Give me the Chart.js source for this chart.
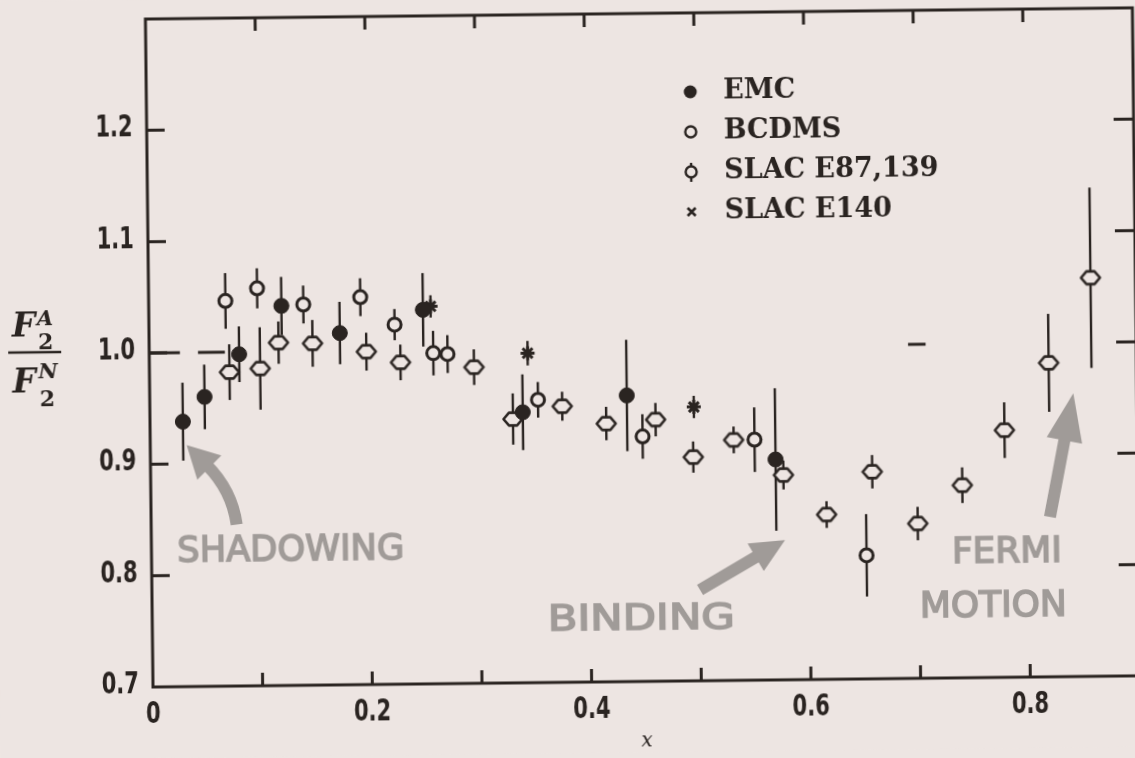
<!DOCTYPE html>
<html>
<head>
<meta charset="utf-8">
<script src="https://cdn.jsdelivr.net/npm/chart.js@4.4.1/dist/chart.umd.min.js"></script>
<style>
  html, body { margin: 0; padding: 0; width: 1135px; height: 758px; overflow: hidden; background: #ede5e2; }
  #wrap { position: absolute; left: 0; top: 0; width: 1160px; height: 758px;
          transform: rotate(-0.65deg); transform-origin: 153px 687px; }
  canvas { display: block; }
</style>
</head>
<body>
<div id="wrap"><canvas id="chart" width="1160" height="758"></canvas></div>
<script>
// Ratio of nuclear to free-nucleon structure functions, F2(A)/F2(N), versus x

// EMC
const emcX   = [0.030, 0.050, 0.082, 0.121, 0.174, 0.250, 0.340, 0.435, 0.570];
const emcY   = [0.938, 0.960, 0.998, 1.041, 1.016, 1.036, 0.943, 0.957, 0.898];
const emcErr = [0.035, 0.029, 0.025, 0.026, 0.028, 0.033, 0.034, 0.050, 0.064];

// BCDMS
const bcdmsX   = [0.070, 0.099, 0.141, 0.193, 0.224, 0.259, 0.272, 0.354, 0.449, 0.551, 0.652];
const bcdmsY   = [1.046, 1.057, 1.042, 1.048, 1.023, 0.997, 0.996, 0.954, 0.920, 0.916, 0.811];
const bcdmsErr = [0.025, 0.018, 0.017, 0.017, 0.014, 0.020, 0.017, 0.016, 0.020, 0.029, 0.037];

// SLAC E87, E139
const slacX   = [0.073, 0.101, 0.118, 0.149, 0.198, 0.229, 0.296, 0.331, 0.376, 0.416, 0.461,
                 0.495, 0.532, 0.577, 0.616, 0.658, 0.699, 0.740, 0.779, 0.820, 0.859];
const slacY   = [0.982, 0.985, 1.008, 1.007, 0.999, 0.989, 0.984, 0.937, 0.948, 0.932, 0.935,
                 0.901, 0.916, 0.884, 0.848, 0.886, 0.839, 0.873, 0.922, 0.982, 1.058];
const slacErr = [0.025, 0.037, 0.019, 0.021, 0.017, 0.016, 0.016, 0.023, 0.013, 0.015, 0.015,
                 0.014, 0.012, 0.013, 0.012, 0.015, 0.015, 0.016, 0.025, 0.044, 0.081];

// SLAC E140
const e140X   = [0.257, 0.345, 0.496];
const e140Y   = [1.039, 0.996, 0.946];
const e140Err = [0.010, 0.011, 0.010];

// Dashed reference level at unity (visible pieces)
const unitySegments = [[0, 0.028], [0.0445, 0.069], [0.692, 0.708]];

// Axes
const xRange = [0, 0.9];
const yRange = [0.7, 1.3];
const xTickValues = [0, 0.2, 0.4, 0.6, 0.8];
const xTickLabels = ['0', '0.2', '0.4', '0.6', '0.8'];
const xTickMarks  = [0.1, 0.2, 0.3, 0.4, 0.5, 0.6, 0.7, 0.8];
const yTickValues = [0.7, 0.8, 0.9, 1.0, 1.1, 1.2];
const yTickLabels = ['0.7', '0.8', '0.9', '1.0', '1.1', '1.2'];
const yTickMarks  = [0.8, 0.9, 1.0, 1.1, 1.2];

const legendLabels = ['EMC', 'BCDMS', 'SLAC E87,139', 'SLAC E140'];

// Hand-lettered notes (position in data units, lettering width in px)
const noteText = ['SHADOWING', 'BINDING', 'FERMI', 'MOTION'];
const noteX    = [0.127, 0.446, 0.780, 0.767];
const noteY    = [0.821, 0.755, 0.812, 0.763];
const noteW    = [227, 187, 110, 147];

// Arrows: tail, bend, tip (data units)
const arrowPaths = [
  [[0.078, 0.845], [0.074, 0.876], [0.0332, 0.917]],
  [[0.4998, 0.7816], [0.5778, 0.8256]],
  [[0.8196, 0.8436], [0.8422, 0.9545]]
];
const arrowHead = [[32, 17], [34, 16], [48, 18]];

const BG = '#ede5e2';
const INK = '#2a2421';
const PENCIL = '#a09b98';

function pts(xs, ys) { return xs.map((x, i) => ({ x: x, y: ys[i] })); }

function unityData() {
  const out = [];
  unitySegments.forEach(s => {
    out.push({ x: s[0], y: 1.0 }, { x: s[1], y: 1.0 }, { x: s[1], y: null });
  });
  return out;
}

function makeSlacMarker() {
  const c = document.createElement('canvas');
  c.width = 24; c.height = 20;
  const g = c.getContext('2d');
  g.beginPath();
  g.moveTo(2.5, 10); g.lineTo(8, 3.6); g.lineTo(16, 3.6);
  g.lineTo(21.5, 10); g.lineTo(16, 16.4); g.lineTo(8, 16.4);
  g.closePath();
  g.fillStyle = BG; g.fill();
  g.lineWidth = 2.6; g.strokeStyle = INK; g.lineJoin = 'round'; g.stroke();
  return c;
}
const slacMarker = makeSlacMarker();

const background = {
  id: 'background',
  beforeDraw(chart) {
    const ctx = chart.ctx;
    ctx.save();
    ctx.fillStyle = BG;
    ctx.fillRect(0, 0, chart.width, chart.height);
    ctx.restore();
  }
};

// Frame, inward ticks, notes, arrows and error bars (under the markers)
const underlay = {
  id: 'underlay',
  beforeDatasetsDraw(chart) {
    const ctx = chart.ctx, a = chart.chartArea;
    const xs = chart.scales.x, ys = chart.scales.y;
    ctx.save();

    // notes
    ctx.fillStyle = PENCIL;
    ctx.textBaseline = 'middle';
    ctx.textAlign = 'center';
    ctx.font = '36px "DejaVu Sans"';
    noteText.forEach((t, i) => {
      const w = ctx.measureText(t).width;
      ctx.save();
      ctx.translate(xs.getPixelForValue(noteX[i]), ys.getPixelForValue(noteY[i]));
      ctx.scale(noteW[i] / w, 1);
      ctx.lineWidth = 1.6; ctx.strokeStyle = PENCIL;
      ctx.strokeText(t, 0, 0);
      ctx.fillText(t, 0, 0);
      ctx.restore();
    });

    // arrows
    arrowPaths.forEach((p, k) => {
      const P = p.map(q => [xs.getPixelForValue(q[0]), ys.getPixelForValue(q[1])]);
      const tip = P[P.length - 1], prev = P[P.length - 2];
      let ux = tip[0] - prev[0], uy = tip[1] - prev[1];
      const n = Math.hypot(ux, uy); ux /= n; uy /= n;
      const L = arrowHead[k][0], W = arrowHead[k][1];
      const bx = tip[0] - L * ux, by = tip[1] - L * uy;
      ctx.strokeStyle = PENCIL; ctx.fillStyle = PENCIL;
      ctx.lineWidth = 12; ctx.lineCap = 'butt';
      ctx.beginPath();
      ctx.moveTo(P[0][0], P[0][1]);
      if (P.length === 3) ctx.quadraticCurveTo(P[1][0], P[1][1], bx + 4 * ux, by + 4 * uy);
      else ctx.lineTo(bx + 4 * ux, by + 4 * uy);
      ctx.stroke();
      ctx.beginPath();
      ctx.moveTo(tip[0], tip[1]);
      ctx.lineTo(bx - W * uy, by + W * ux);
      ctx.lineTo(bx + W * uy, by - W * ux);
      ctx.closePath();
      ctx.fill();
    });

    // frame
    ctx.strokeStyle = INK;
    ctx.lineWidth = 3;
    ctx.lineCap = 'square';
    ctx.strokeRect(a.left, a.top, a.right - a.left, a.bottom - a.top);
    ctx.lineCap = 'butt';
    xTickMarks.forEach(v => {
      const X = xs.getPixelForValue(v);
      ctx.beginPath();
      ctx.moveTo(X, a.bottom); ctx.lineTo(X, a.bottom - 13);
      ctx.moveTo(X, a.top); ctx.lineTo(X, a.top + 13);
      ctx.stroke();
    });
    yTickMarks.forEach(v => {
      const Y = ys.getPixelForValue(v);
      ctx.beginPath();
      ctx.moveTo(a.left, Y); ctx.lineTo(a.left + 18, Y);
      ctx.moveTo(a.right, Y); ctx.lineTo(a.right - 20, Y);
      ctx.stroke();
    });

    // error bars
    ctx.lineWidth = 2.4;
    chart.data.datasets.forEach((ds, i) => {
      if (!ds.errors) return;
      ds.data.forEach((p, j) => {
        const X = xs.getPixelForValue(p.x);
        ctx.beginPath();
        ctx.moveTo(X, ys.getPixelForValue(p.y - ds.errors[j]));
        ctx.lineTo(X, ys.getPixelForValue(p.y + ds.errors[j]));
        ctx.stroke();
      });
    });
    ctx.restore();
  }
};

function condensed(ctx, text, x, y, align, sx) {
  ctx.save();
  ctx.translate(x, y);
  ctx.scale(sx, 1);
  ctx.textAlign = align;
  ctx.fillText(text, 0, 0);
  ctx.restore();
}

// Tick labels, axis titles, legend
const overlay = {
  id: 'overlay',
  afterDraw(chart) {
    const ctx = chart.ctx, a = chart.chartArea;
    const xs = chart.scales.x, ys = chart.scales.y;
    ctx.save();
    ctx.fillStyle = INK;
    ctx.textBaseline = 'middle';
    ctx.font = 'bold 31px "DejaVu Sans"';
    yTickValues.forEach((v, i) => condensed(ctx, yTickLabels[i], a.left - 14, ys.getPixelForValue(v) - 2, 'right', 0.68));
    xTickValues.forEach((v, i) => condensed(ctx, xTickLabels[i], xs.getPixelForValue(v), a.bottom + 28, 'center', 0.68));

    // x axis title
    ctx.font = 'italic 20px "DejaVu Serif"';
    ctx.textAlign = 'center';
    ctx.fillText('x', xs.getPixelForValue(0.45), a.bottom + 60);

    // y axis title F2(A) / F2(N)
    ctx.textBaseline = 'alphabetic';
    ctx.textAlign = 'left';
    ctx.font = 'bold italic 33px "DejaVu Serif"';
    ctx.fillText('F', 16, 335);
    ctx.fillText('F', 16, 391);
    ctx.font = 'bold italic 21px "DejaVu Serif"';
    ctx.fillText('A', 41, 324);
    ctx.fillText('N', 42, 377);
    ctx.font = 'bold 22px "DejaVu Serif"';
    ctx.fillText('2', 42, 348);
    ctx.fillText('2', 43, 405);
    ctx.lineWidth = 2.5; ctx.strokeStyle = INK;
    ctx.beginPath(); ctx.moveTo(12, 351); ctx.lineTo(65, 351); ctx.stroke();

    // legend
    const mx = 697, tx = 730, y0 = 98, dy = 40;
    ctx.font = 'bold 27px "DejaVu Serif"';
    ctx.textBaseline = 'middle';
    legendLabels.forEach((t, i) => ctx.fillText(t, tx, y0 + i * dy));
    // EMC
    ctx.beginPath(); ctx.arc(mx, y0, 6.5, 0, Math.PI * 2); ctx.fill();
    // BCDMS
    ctx.lineWidth = 2.4;
    ctx.beginPath(); ctx.arc(mx, y0 + dy, 5.5, 0, Math.PI * 2); ctx.stroke();
    // SLAC E87,139
    const ys3 = y0 + 2 * dy;
    ctx.beginPath(); ctx.arc(mx, ys3, 5.5, 0, Math.PI * 2); ctx.stroke();
    ctx.beginPath(); ctx.moveTo(mx, ys3 - 9); ctx.lineTo(mx, ys3 - 5.5);
    ctx.moveTo(mx, ys3 + 5.5); ctx.lineTo(mx, ys3 + 10); ctx.stroke();
    // SLAC E140
    const ys4 = y0 + 3 * dy;
    ctx.lineWidth = 2.6;
    ctx.beginPath();
    ctx.moveTo(mx - 4, ys4 - 4); ctx.lineTo(mx + 4, ys4 + 4);
    ctx.moveTo(mx + 4, ys4 - 4); ctx.lineTo(mx - 4, ys4 + 4);
    ctx.stroke();
    ctx.restore();
  }
};

new Chart(document.getElementById('chart'), {
  type: 'scatter',
  data: {
    datasets: [
      { label: 'unity', type: 'line', data: unityData(), showLine: true, spanGaps: false,
        borderColor: INK, borderWidth: 3, pointRadius: 0, order: 5 },
      { label: legendLabels[0], data: pts(emcX, emcY), errors: emcErr,
        pointStyle: 'circle', pointRadius: 7.5, backgroundColor: INK, borderColor: INK, borderWidth: 1, order: 1 },
      { label: legendLabels[1], data: pts(bcdmsX, bcdmsY), errors: bcdmsErr,
        pointStyle: 'circle', pointRadius: 6.5, backgroundColor: BG, borderColor: INK, borderWidth: 3, order: 3 },
      { label: legendLabels[2], data: pts(slacX, slacY), errors: slacErr,
        pointStyle: slacMarker, backgroundColor: BG, borderColor: INK, order: 2 },
      { label: legendLabels[3], data: pts(e140X, e140Y), errors: e140Err,
        pointStyle: 'star', pointRadius: 7, backgroundColor: INK, borderColor: INK, borderWidth: 3, order: 4 }
    ]
  },
  options: {
    responsive: false,
    animation: false,
    devicePixelRatio: 1,
    layout: { padding: { left: 0, top: 19, right: 20, bottom: 0 } },
    plugins: { legend: { display: false }, tooltip: { enabled: false } },
    scales: {
      x: { type: 'linear', min: xRange[0], max: xRange[1],
           grid: { display: false }, border: { display: false }, ticks: { display: false },
           afterFit(s) { s.height = 71; } },
      y: { type: 'linear', min: yRange[0], max: yRange[1],
           grid: { display: false }, border: { display: false }, ticks: { display: false },
           afterFit(s) { s.width = 153; } }
    }
  },
  plugins: [background, underlay, overlay]
});
</script>
</body>
</html>
